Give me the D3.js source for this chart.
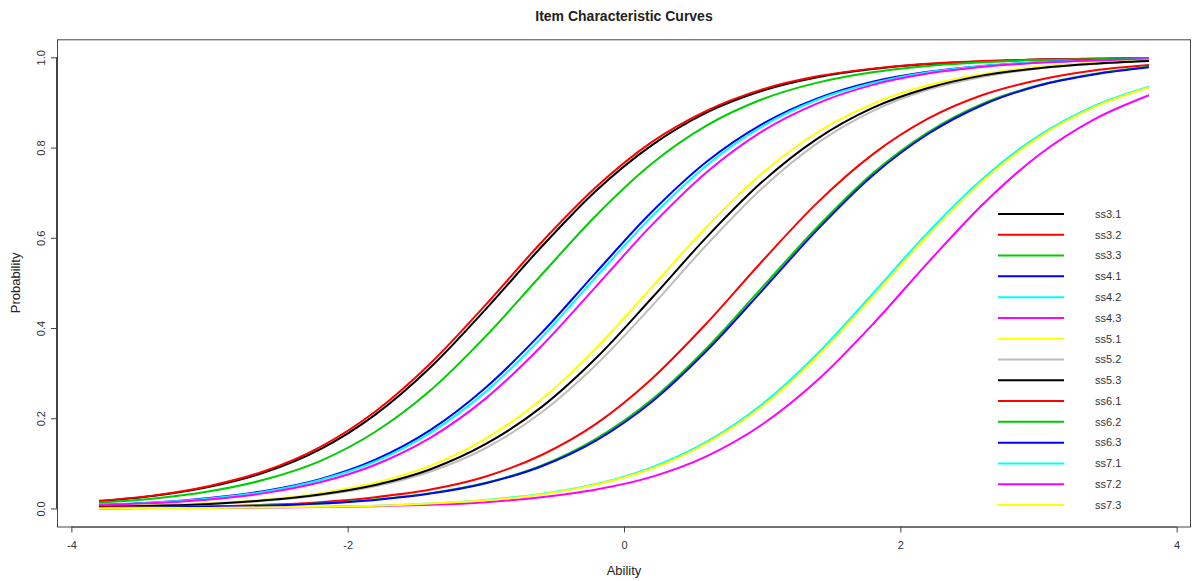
<!DOCTYPE html>
<html lang="en">
<head>
  <meta charset="UTF-8"/>
  <title>Item Characteristic Curves</title>
  <script src="https://d3js.org/d3.v7.min.js"></script>
  <style>
    *{margin:0;padding:0}
    body{background:#fff;font-family:"Liberation Sans",Arial,sans-serif}
    svg text{fill:#222}
  </style>
</head>
<body>
<div id="chart"></div>
<script>
  // ability grid (x) shared by every item
  const ability = [-3.8,-3.4,-3.0,-2.6,-2.2,-1.8,-1.4,-1.0,-0.6,-0.2,0.2,0.6,1.0,1.4,1.8,2.2,2.6,3.0,3.4,3.8];

  const itemNames = ['ss3.1','ss3.2','ss3.3','ss4.1','ss4.2','ss4.3','ss5.1','ss5.2','ss5.3','ss6.1','ss6.2','ss6.3','ss7.1','ss7.2','ss7.3'];

  // probabilities, one array per item
  const ss3_1 = [0.016,0.028,0.048,0.080,0.131,0.208,0.313,0.442,0.579,0.705,0.805,0.878,0.926,0.956,0.974,0.985,0.991,0.995,0.997,0.998];
  const ss3_2 = [0.017,0.029,0.050,0.083,0.136,0.215,0.322,0.452,0.589,0.713,0.812,0.882,0.929,0.958,0.975,0.986,0.992,0.995,0.997,0.998];
  const ss3_3 = [0.013,0.022,0.038,0.064,0.105,0.170,0.262,0.382,0.517,0.650,0.764,0.849,0.907,0.944,0.967,0.981,0.989,0.994,0.996,0.998];
  const ss4_1 = [0.008,0.013,0.023,0.039,0.065,0.108,0.174,0.268,0.388,0.524,0.657,0.769,0.852,0.909,0.946,0.968,0.981,0.989,0.994,0.996];
  const ss4_2 = [0.007,0.013,0.022,0.037,0.063,0.104,0.168,0.259,0.378,0.514,0.647,0.761,0.847,0.906,0.943,0.967,0.981,0.989,0.993,0.996];
  const ss4_3 = [0.007,0.012,0.020,0.034,0.058,0.097,0.157,0.244,0.359,0.493,0.628,0.746,0.836,0.898,0.939,0.964,0.979,0.988,0.993,0.996];
  const ss5_1 = [0.004,0.007,0.012,0.020,0.034,0.057,0.095,0.155,0.241,0.356,0.490,0.625,0.743,0.834,0.897,0.938,0.963,0.979,0.988,0.993];
  const ss5_2 = [0.003,0.006,0.010,0.017,0.029,0.049,0.082,0.134,0.212,0.319,0.448,0.585,0.710,0.810,0.881,0.928,0.957,0.975,0.985,0.992];
  const ss5_3 = [0.004,0.006,0.010,0.018,0.031,0.052,0.087,0.143,0.224,0.334,0.466,0.602,0.724,0.820,0.888,0.932,0.960,0.976,0.986,0.992];
  const ss6_1 = [0.002,0.003,0.005,0.008,0.014,0.025,0.042,0.071,0.118,0.188,0.287,0.411,0.548,0.678,0.785,0.864,0.917,0.950,0.971,0.983];
  const ss6_2 = [0.001,0.002,0.004,0.007,0.011,0.020,0.034,0.057,0.095,0.155,0.241,0.356,0.490,0.624,0.743,0.834,0.898,0.938,0.963,0.979];
  const ss6_3 = [0.001,0.002,0.004,0.006,0.011,0.019,0.033,0.056,0.093,0.151,0.236,0.350,0.483,0.618,0.738,0.830,0.895,0.937,0.962,0.978];
  const ss7_1 = [0.000,0.001,0.001,0.002,0.004,0.006,0.011,0.019,0.032,0.054,0.091,0.148,0.231,0.343,0.476,0.612,0.732,0.826,0.892,0.935];
  const ss7_2 = [0.000,0.001,0.001,0.002,0.003,0.005,0.008,0.014,0.025,0.042,0.070,0.116,0.186,0.284,0.408,0.545,0.675,0.783,0.862,0.916];
  const ss7_3 = [0.000,0.001,0.001,0.002,0.004,0.006,0.011,0.018,0.031,0.053,0.088,0.145,0.226,0.337,0.469,0.605,0.727,0.822,0.889,0.933];

  const itemProbs = [ss3_1,ss3_2,ss3_3,ss4_1,ss4_2,ss4_3,ss5_1,ss5_2,ss5_3,ss6_1,ss6_2,ss6_3,ss7_1,ss7_2,ss7_3];

  const xTicks = [-4,-2,0,2,4];
  const yTicks = [0,0.2,0.4,0.6,0.8,1.0];

  // R's default palette, recycled
  const palette = ['#000000','#FF0000','#00CD00','#0000FF','#00FFFF','#FF00FF','#FFFF00','#BEBEBE'];

  const W = 1192, H = 581;
  const box = {left:57, right:1191, top:39.3, bottom:526.5};

  const x = d3.scaleLinear().domain([-4.104,4.104]).range([box.left,box.right]);
  const y = d3.scaleLinear().domain([-0.04,1.04]).range([box.bottom,box.top]);

  const svg = d3.select('#chart').append('svg')
    .attr('width',W).attr('height',H);

  // frame
  svg.append('rect')
    .attr('x',box.left+0.5).attr('y',box.top+0.5)
    .attr('width',box.right-box.left-1).attr('height',box.bottom-box.top)
    .attr('fill','none').attr('stroke','#444').attr('stroke-width',1);

  // x axis
  const xAxis = d3.axisBottom(x).tickValues(xTicks).tickSize(6).tickPadding(9)
    .tickFormat(d => d3.format('d')(d).replace('−','-'));
  const gx = svg.append('g').attr('transform',`translate(0,${box.bottom})`).call(xAxis);
  gx.select('.domain').attr('d',`M${x(-4)},0.5H${x(4)}`).attr('stroke','#444');
  gx.selectAll('.tick line').attr('stroke','#444');
  gx.selectAll('text').attr('font-size',11).attr('font-family','Liberation Sans, Arial, sans-serif').style('fill','#333');

  // y axis, labels rotated like base R
  const yAxis = d3.axisLeft(y).tickValues(yTicks).tickSize(6).tickFormat(d3.format('.1f'));
  const gy = svg.append('g').attr('transform',`translate(${box.left},0)`).call(yAxis);
  gy.select('.domain').attr('d',`M-0.5,${y(0)}V${y(1)}`).attr('stroke','#444');
  gy.selectAll('.tick line').attr('stroke','#444');
  gy.selectAll('text')
    .attr('font-size',11).attr('font-family','Liberation Sans, Arial, sans-serif').style('fill','#333')
    .attr('x',null).attr('dy',null)
    .attr('text-anchor','middle')
    .attr('transform','translate(-16,0) rotate(-90)')
    .attr('dy','0.35em');

  // curves
  const line = d3.line()
    .x((d,i) => x(ability[i]))
    .y(d => y(d))
    .curve(d3.curveMonotoneX);

  svg.append('g').selectAll('path')
    .data(itemProbs)
    .join('path')
    .attr('d',line)
    .attr('fill','none')
    .attr('stroke',(d,i) => palette[i % palette.length])
    .attr('stroke-width',2);

  // legend
  const legend = svg.append('g');
  const legY = d3.scalePoint().domain(itemNames).range([214,505]);
  itemNames.forEach((name,i) => {
    legend.append('line')
      .attr('x1',998).attr('x2',1064)
      .attr('y1',legY(name)).attr('y2',legY(name))
      .attr('stroke',palette[i % palette.length]).attr('stroke-width',2);
    legend.append('text')
      .attr('x',1095).attr('y',legY(name)).attr('dy','0.35em')
      .attr('font-size',11).style('fill','#333')
      .text(name);
  });

  // titles
  svg.append('text')
    .attr('x',(box.left+box.right)/2).attr('y',21)
    .attr('text-anchor','middle').attr('font-size',14).attr('font-weight','bold')
    .text('Item Characteristic Curves');

  svg.append('text')
    .attr('x',(box.left+box.right)/2).attr('y',575)
    .attr('text-anchor','middle').attr('font-size',13)
    .text('Ability');

  svg.append('text')
    .attr('transform',`translate(20,${(box.top+box.bottom)/2}) rotate(-90)`)
    .attr('text-anchor','middle').attr('font-size',13)
    .text('Probability');
</script>
</body>
</html>
